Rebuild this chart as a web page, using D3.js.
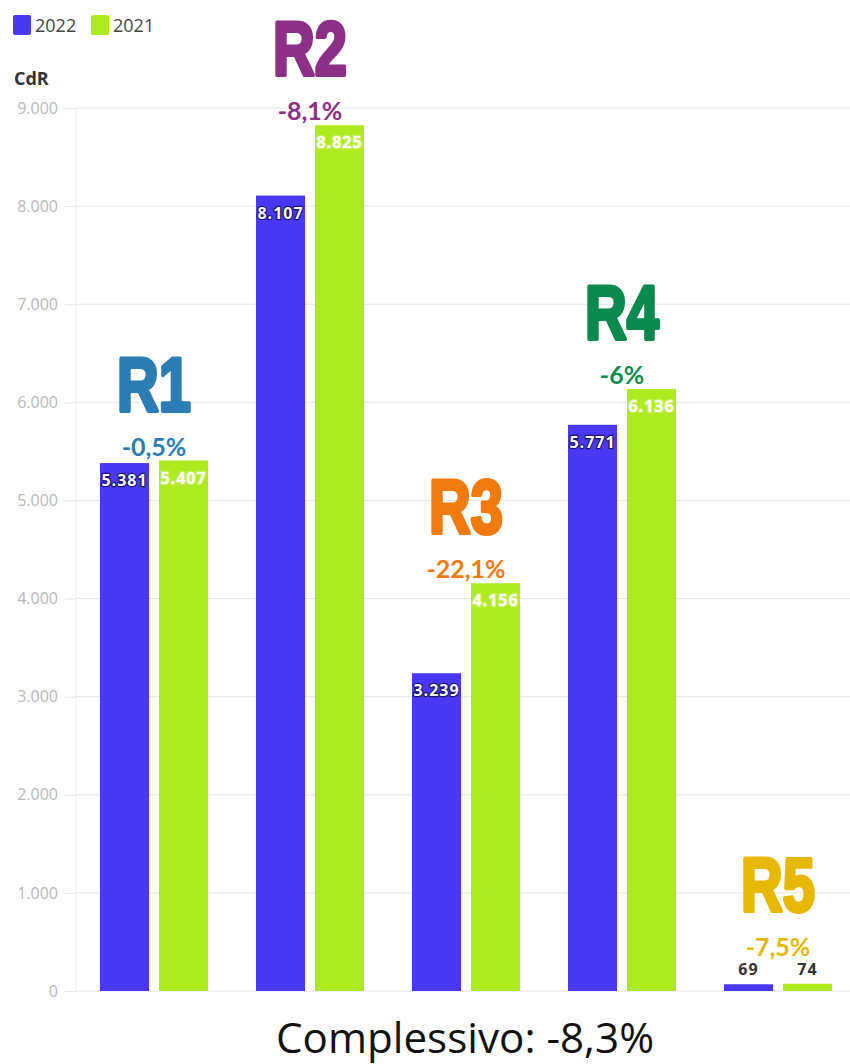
<!DOCTYPE html>
<html>
<head>
<meta charset="utf-8">
<title>CdR 2022 vs 2021</title>
<script src="https://cdnjs.cloudflare.com/ajax/libs/d3/7.8.5/d3.min.js"></script>
<style>
  body { margin: 0; background: #fff; }
</style>
</head>
<body>
<script>
// data
var regions = ["R1", "R2", "R3", "R4", "R5"]
var series = ["2022", "2021"]
var values2022 = [5381, 8107, 3239, 5771, 69]
var values2021 = [5407, 8825, 4156, 6136, 74]
var changes = ["-0,5%", "-8,1%", "-22,1%", "-6%", "-7,5%"]
var regionColours = ["#2c7db3", "#8b2f87", "#f07a0e", "#0b8a4f", "#e6b800"]
var yTicks = [0, 1000, 2000, 3000, 4000, 5000, 6000, 7000, 8000, 9000]
var totalLabel = "Complessivo: -8,3%"

var seriesColours = { "2022": "#4939f4", "2021": "#afea1e" }
var outline = { "2022": "#1c1470", "2021": "#c9f060" }

var w = 850, h = 1064
var svg = d3.select("body").append("svg")
    .attr("width", w)
    .attr("height", h)
    .style("font-family", "'Open Sans', sans-serif")

var fmt = d3.formatLocale({ decimal: ",", thousands: ".", grouping: [3], currency: ["", ""] }).format(",")

var y = d3.scaleLinear().domain([0, 9000]).range([991, 108])
var x0 = d3.scaleBand().domain(regions).range([76, 856])
var x1 = d3.scaleBand().domain(series).range([24, 132]).paddingInner(10 / 59)

// grid + y axis
var yAxis = svg.append("g")
    .attr("transform", "translate(76,0)")
    .call(d3.axisLeft(y).tickValues(yTicks).tickSize(11).tickPadding(7).tickFormat(fmt))
yAxis.select(".domain").remove()
yAxis.selectAll("line").attr("stroke", "#e6e6e6")
yAxis.selectAll("text").attr("fill", "#b8b8b8").style("font-size", "16px")
    .style("font-family", "'Open Sans', sans-serif")

svg.append("g").selectAll("line")
    .data(yTicks)
    .join("line")
    .attr("x1", 76).attr("x2", w)
    .attr("y1", function(d){ return y(d) }).attr("y2", function(d){ return y(d) })
    .attr("stroke", "#e6e6e6")

svg.append("line")
    .attr("x1", 76).attr("x2", 76)
    .attr("y1", y(9000)).attr("y2", y(0))
    .attr("stroke", "#ececec")

// legend
var legend = svg.append("g")
series.forEach(function(s, i){
    var lx = 13 + i * 78
    legend.append("rect").attr("x", lx).attr("y", 15).attr("width", 18).attr("height", 20)
        .attr("rx", 2).attr("fill", seriesColours[s])
    legend.append("text").attr("x", lx + 22).attr("y", 32).text(s)
        .attr("fill", "#444").style("font-size", "18px")
})

svg.append("text").attr("x", 14).attr("y", 85).text("CdR")
    .attr("fill", "#333").style("font-size", "18px").style("font-weight", "bold")

// bars
var rows = regions.map(function(r, i){
    return { region: r, i: i, vals: [{ s: "2022", v: values2022[i] }, { s: "2021", v: values2021[i] }] }
})

var groups = svg.append("g").selectAll("g")
    .data(rows)
    .join("g")
    .attr("transform", function(d){ return "translate(" + x0(d.region) + ",0)" })

groups.selectAll("rect")
    .data(function(d){ return d.vals })
    .join("rect")
    .attr("x", function(d){ return x1(d.s) })
    .attr("width", x1.bandwidth())
    .attr("y", function(d){ return y(d.v) })
    .attr("height", function(d){ return y(0) - y(d.v) })
    .attr("fill", function(d){ return seriesColours[d.s] })

groups.selectAll("text.val")
    .data(function(d){ return d.vals })
    .join("text")
    .attr("class", "val")
    .attr("x", function(d){ return x1(d.s) + x1.bandwidth() / 2 })
    .attr("y", function(d){
        var inside = y(0) - y(d.v) > 25
        return inside ? y(d.v) + 23 : y(d.v) - 9
    })
    .attr("text-anchor", "middle")
    .style("font-size", "16px")
    .style("font-weight", "bold")
    .style("letter-spacing", "1px")
    .style("paint-order", "stroke")
    .attr("stroke-linejoin", "round")
    .each(function(d){
        var inside = y(0) - y(d.v) > 25
        d3.select(this)
            .attr("fill", inside ? "#fff" : "#333")
            .attr("stroke", inside ? outline[d.s] : "none")
            .attr("stroke-width", inside ? 2.5 : 0)
    })
    .text(function(d){ return fmt(d.v) })

// region annotations
rows.forEach(function(d){
    var top = d3.min(d.vals, function(v){ return y(v.v) })
    if (y(0) - top <= 25) top = top - 23
    var cx = x0(d.region) + x0.bandwidth() / 2
    var c = regionColours[d.i]
    svg.append("text")
        .attr("x", cx).attr("y", top - 5)
        .attr("text-anchor", "middle")
        .attr("fill", c)
        .style("font-family", "Lato, sans-serif")
        .style("font-weight", "bold")
        .style("font-size", "25px")
        .text(changes[d.i])
    svg.append("text")
        .attr("transform", "translate(" + cx + "," + (top - 50) + ") scale(0.76,1)")
        .attr("text-anchor", "middle")
        .attr("fill", c)
        .attr("stroke", c).attr("stroke-width", 4).attr("stroke-linejoin", "round")
        .style("font-family", "'Liberation Sans', sans-serif")
        .style("font-weight", "bold")
        .style("font-size", "76px")
        .text(d.region)
})

svg.append("text")
    .attr("x", 465).attr("y", 1053)
    .attr("text-anchor", "middle")
    .attr("fill", "#111")
    .attr("textLength", 378)
    .attr("lengthAdjust", "spacingAndGlyphs")
    .style("font-size", "42px")
    .text(totalLabel)
</script>
</body>
</html>
